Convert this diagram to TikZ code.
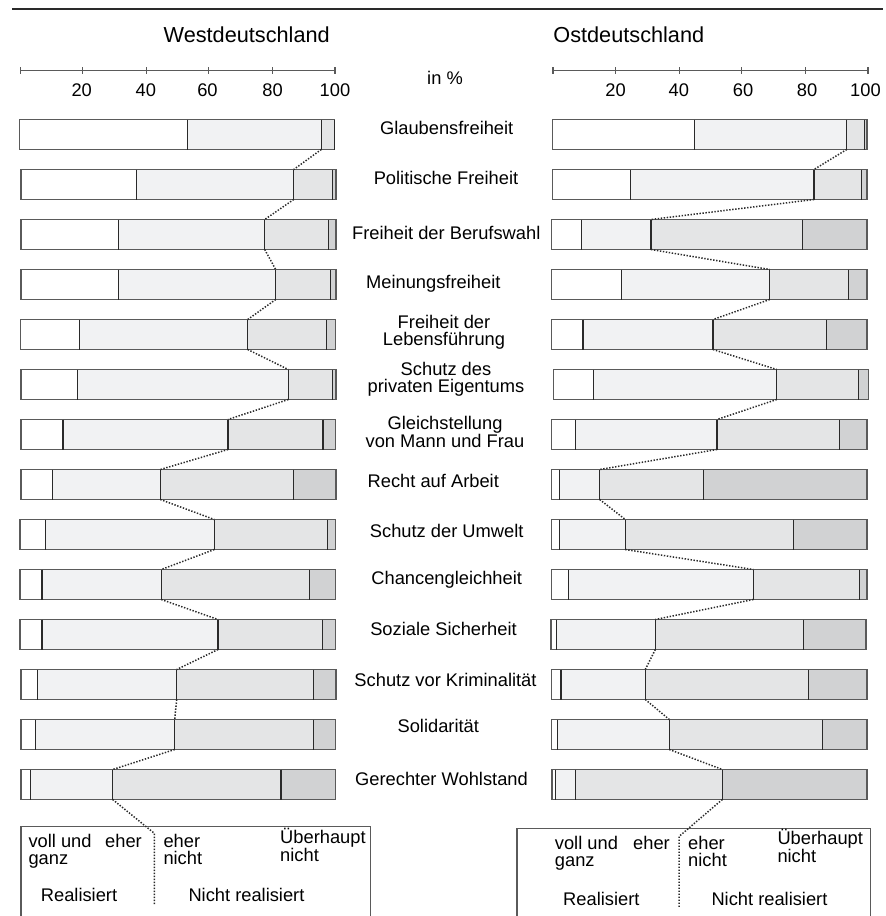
\documentclass[tikz,border=0pt]{standalone}
\usepackage{fontspec}
\setmainfont{Liberation Sans}
\definecolor{segB}{HTML}{F1F2F3}
\definecolor{segC}{HTML}{E4E5E6}
\definecolor{segD}{HTML}{D1D2D3}
\definecolor{edgec}{HTML}{5A5A5A}
\definecolor{divl}{HTML}{2A2A2A}
\newcommand{\drawbar}[7]{%
  \fill[white] (#3,#2) rectangle (#4,#2+30);
  \fill[segB] (#4,#2) rectangle (#5,#2+30);
  \fill[segC] (#5,#2) rectangle (#6,#2+30);
  \fill[segD] (#6,#2) rectangle (#7,#2+30);
  \draw[baredge] (#3,#2) rectangle (#7,#2+30);
  \draw[bardiv] (#4,#2) -- (#4,#2+30) (#5,#2) -- (#5,#2+30) (#6,#2) -- (#6,#2+30);
  \coordinate (#1-t) at (#5,#2);
  \coordinate (#1-b) at (#5,#2+30);
}
\begin{document}
\begin{tikzpicture}[x=1pt,y=-1pt,
  lab/.style={font=\fontsize{18.3}{16.7}\selectfont, inner sep=0pt, align=center},
  leg/.style={font=\fontsize{18.3}{16.8}\selectfont, inner sep=0pt, align=left, anchor=base west},
  ttl/.style={font=\fontsize{21.7}{24}\selectfont, inner sep=0pt},
  conn/.style={draw=divl, line width=1.5pt, dash pattern=on 1.4pt off 1.6pt},
  baredge/.style={draw=edgec, line width=1.2pt},
  bardiv/.style={draw=divl, line width=1.2pt},
  axisl/.style={draw=edgec, line width=1.1pt},
  legbox/.style={draw=edgec, line width=1.1pt},
  ]
\useasboundingbox (0,0) rectangle (886,916);
% top rule
\draw[line width=1.1pt, draw=divl] (12,9) -- (883,9);
% titles
\node[ttl, anchor=base] (tw) at (246.7,42) {Westdeutschland};
\node[ttl, anchor=base] (to) at (628.8,42) {Ostdeutschland};
\node[lab, anchor=base] (pct) at (445,84) {in \%};
% axes
\draw[axisl] (20.7,70.7) -- (335,70.7);
\foreach \x in {20.7,82.3,146.7,208.3,272.7,335} \draw[axisl] (\x,67.2) -- (\x,74);
\draw[axisl] (553,70.7) -- (868,70.7);
\foreach \x in {553,615.3,679.3,741.7,805.7,868} \draw[axisl] (\x,67.2) -- (\x,74);
\foreach \x/\t [count=\k] in {81.7/20,145.8/40,207.5/60,272.5/80,335/100}
  \node[lab, anchor=base] (wt\k) at (\x,96.5) {\t};
\foreach \x/\t [count=\k] in {615.5/20,678.8/40,743/60,807/80,865.5/100}
  \node[lab, anchor=base] (ot\k) at (\x,96.5) {\t};
% bars West
\foreach \i/\a/\b/\c/\d/\e in {
  0/19.5/187.7/321.3/334.3/334.3,
  1/21/136.7/293.7/332.3/336,
  2/21/118.3/264.7/328.7/336,
  3/21/118.3/275.7/330.7/336,
  4/20.7/79.3/247.7/326.7/335.3,
  5/21/77.7/288.3/332.3/336,
  6/21/63/228/323/335.3,
  7/21/52.3/160.3/293.7/336,
  8/20/45.7/214.3/327.7/335.3,
  9/20/42/161.3/309.7/335.3,
  10/20/42/218/322.3/335.3,
  11/21/37.3/176.7/313.7/336,
  12/21/35.3/174.7/313.7/335.3,
  13/21/30.3/112.7/281/335.3}{
  \pgfmathsetmacro\tp{119.5+50*\i}
  \drawbar{w\i}{\tp}{\a}{\b}{\c}{\d}{\e}
}
% bars East
\foreach \i/\a/\b/\c/\d/\e in {
  0/552.3/694.7/846.7/864.7/867,
  1/552.3/630.7/814/861.3/867,
  2/551.7/581.3/651/802.7/867,
  3/551.7/621.7/769.7/848.7/867,
  4/551.7/583/713/826.3/867,
  5/553.3/593.7/776.7/858.7/868.3,
  6/551.7/575.7/717/839.3/867,
  7/551.7/559.3/599.7/703.7/867,
  8/551.7/559.3/625.3/793.7/867,
  9/551.7/568.3/753.3/859.3/867,
  10/551/556.3/655.3/803.7/866,
  11/551.7/561/645.3/808.3/867,
  12/551.7/557.3/669.3/822.7/867,
  13/552/555.3/575.7/722.3/867}{
  \pgfmathsetmacro\tp{119.5+50*\i}
  \drawbar{o\i}{\tp}{\a}{\b}{\c}{\d}{\e}
}
% the last East bar is joined at its border to the dark part
\coordinate (o13-t) at (722.3,769.5);
\coordinate (o13-b) at (722.3,799.5);
% dotted connectors
\foreach \i [evaluate=\i as \j using int(\i+1)] in {0,...,12} {
  \draw[conn] (w\i-b) -- (w\j-t);
  \draw[conn] (o\i-b) -- (o\j-t);
}
% labels
\node[lab, anchor=base] (l0) at (446.7,134.9) {Glaubensfreiheit};
\node[lab, anchor=base] (l1) at (446,184.9) {Politische Freiheit};
\node[lab, anchor=base] (l2) at (446.3,239.2) {Freiheit der Berufswahl};
\node[lab, anchor=base] (l3) at (433.3,288.2) {Meinungsfreiheit};
\node[lab] (l4) at (444,332.6) {Freiheit der\\Lebensführung};
\node[lab] (l5) at (446,379.5) {Schutz des\\privaten Eigentums};
\node[lab] (l6) at (445,431.8) {Gleichstellung\\von Mann und Frau};
\node[lab, anchor=base] (l7) at (433.3,487.5) {Recht auf Arbeit};
\node[lab, anchor=base] (l8) at (446.7,537.5) {Schutz der Umwelt};
\node[lab, anchor=base] (l9) at (446.7,584.2) {Chancengleichheit};
\node[lab, anchor=base] (l10) at (443.5,635.8) {Soziale Sicherheit};
\node[lab, anchor=base] (l11) at (445.5,686.5) {Schutz vor Kriminalität};
\node[lab, anchor=base] (l12) at (438.3,732.5) {Solidarität};
\node[lab, anchor=base] (l13) at (441.5,785.5) {Gerechter Wohlstand};
% legend West (multi-line nodes: base = last line)
\draw[legbox] (21,916) -- (21,826.7) -- (370.7,826.7) -- (370.7,916);
\coordinate (wk) at (154.3,833.3);
\coordinate (we) at (154.3,905);
\draw[conn] (w13-b) -- (wk) -- (we);
\node[leg] (wa) at (28.3,864) {voll und\\ganz};
\node[leg] (wc) at (105,847.3) {eher};
\node[leg] (wd) at (163.3,864) {eher\\nicht};
\node[leg] (wf) at (280,861.8) {Überhaupt\\nicht};
\node[leg] (wr) at (40.7,901.7) {Realisiert};
\node[leg] (wn) at (188.3,901.7) {Nicht realisiert};
% legend East
\draw[legbox] (517,916) -- (517,828.3) -- (870.3,828.3) -- (870.3,916);
\coordinate (ok) at (679,836.5);
\coordinate (oe) at (679,908);
\draw[conn] (o13-b) -- (ok) -- (oe);
\node[leg] (oa) at (554.7,866) {voll und\\ganz};
\node[leg] (oc) at (633,849.3) {eher};
\node[leg] (od) at (688,866) {eher\\nicht};
\node[leg] (of) at (777.3,862.8) {Überhaupt\\nicht};
\node[leg] (or) at (563,905) {Realisiert};
\node[leg] (on) at (711.3,905) {Nicht realisiert};
\end{tikzpicture}
\end{document}
